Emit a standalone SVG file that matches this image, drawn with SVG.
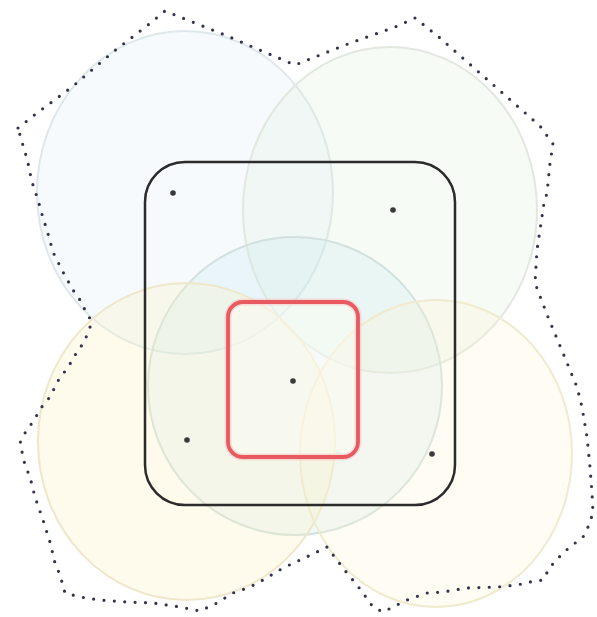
<svg xmlns="http://www.w3.org/2000/svg" width="597" height="617" viewBox="0 0 597 617">
  <style>
    .area { stroke-width: 2; }
    .dot { fill: #3a3a3a; }
    .hull { fill: none; stroke: #33334d; stroke-width: 3.2; stroke-linecap: round; stroke-dasharray: 0 10.4; }
  </style>
  <rect width="597" height="617" fill="#ffffff"/>
  <g id="areas">
    <ellipse id="blue" class="area" cx="185" cy="192.5" rx="148" ry="161.5" fill="#d8eaf8" fill-opacity="0.24" stroke="#dfe7eb"/>
    <ellipse id="green" class="area" cx="390" cy="210" rx="147" ry="163" fill="#dcebd6" fill-opacity="0.22" stroke="#e2e8df"/>
    <ellipse id="teal" class="area" cx="295" cy="386" rx="147" ry="149" fill="#c9e8ee" fill-opacity="0.27" stroke="#d2e1de"/>
    <ellipse id="yellowLeft" class="area" cx="186.5" cy="441.5" rx="148.5" ry="158.5" fill="#fbf1bf" fill-opacity="0.28" stroke="#eee7c9"/>
    <ellipse id="yellowRight" class="area" cx="436" cy="453.5" rx="136" ry="153.5" fill="#fbf3d3" fill-opacity="0.28" stroke="#f0eacf"/>
  </g>
  <path id="hull" class="hull" d="M18,128 L37,113 L72,87 L113,52 L148,25 L165,11 L195,23 L225,35 L255,48 L295,65 L345,45 L395,27 L415,18 L440,38 L465,60 L490,82 L515,104 L540,126 L553,144 L550,163 L547,193 L544,203 L540,230 L537,250 L535,283 L548,317 L563,353 L577,387 L582,407 L587,437 L590,467 L592,493 L593,513 L588,527 L583,537 L570,547 L563,553 L550,567 L543,580 L530,582 L517,585 L497,587 L467,588 L443,592 L427,593 L407,600 L393,607 L383,612 L373,607 L363,593 L357,585 L347,573 L337,560 L327,547 L317,552 L300,560 L283,568 L263,580 L250,587 L233,593 L217,603 L200,611 L180,607 L153,603 L127,602 L100,600 L80,597 L65,593 L60,575 L55,563 L50,542 L43,520 L35,497 L30,477 L25,465 L20,443 L25,433 L32,423 L37,415 L43,405 L50,397 L60,377 L68,368 L73,358 L80,348 L85,340 L92,322 L85,310 L80,300 L73,290 L63,272 L53,252 L47,230 L43,218 L40,207 L37,197 L33,185 L30,173 L28,163 L25,152 L22,142 Z"/>
  <g id="outerBox">
    <rect x="145" y="162" width="310" height="343" rx="40" ry="40" fill="none" stroke="#2b2b2b" stroke-width="2.5"/>
  </g>
  <g id="innerBox">
    <rect x="228" y="302" width="130" height="155" rx="15" ry="15" fill="#fffdf5" fill-opacity="0.45" stroke="#f5c0c2" stroke-width="7" stroke-opacity="0.5"/>
    <rect x="228" y="302" width="130" height="155" rx="15" ry="15" fill="none" stroke="#e85a60" stroke-width="3.8"/>
  </g>
  <g id="points">
    <circle class="dot" cx="173" cy="193" r="2.8"/>
    <circle class="dot" cx="393" cy="210" r="2.8"/>
    <circle class="dot" cx="293" cy="381" r="2.8"/>
    <circle class="dot" cx="187" cy="440" r="2.8"/>
    <circle class="dot" cx="432" cy="454" r="2.8"/>
  </g>
</svg>
